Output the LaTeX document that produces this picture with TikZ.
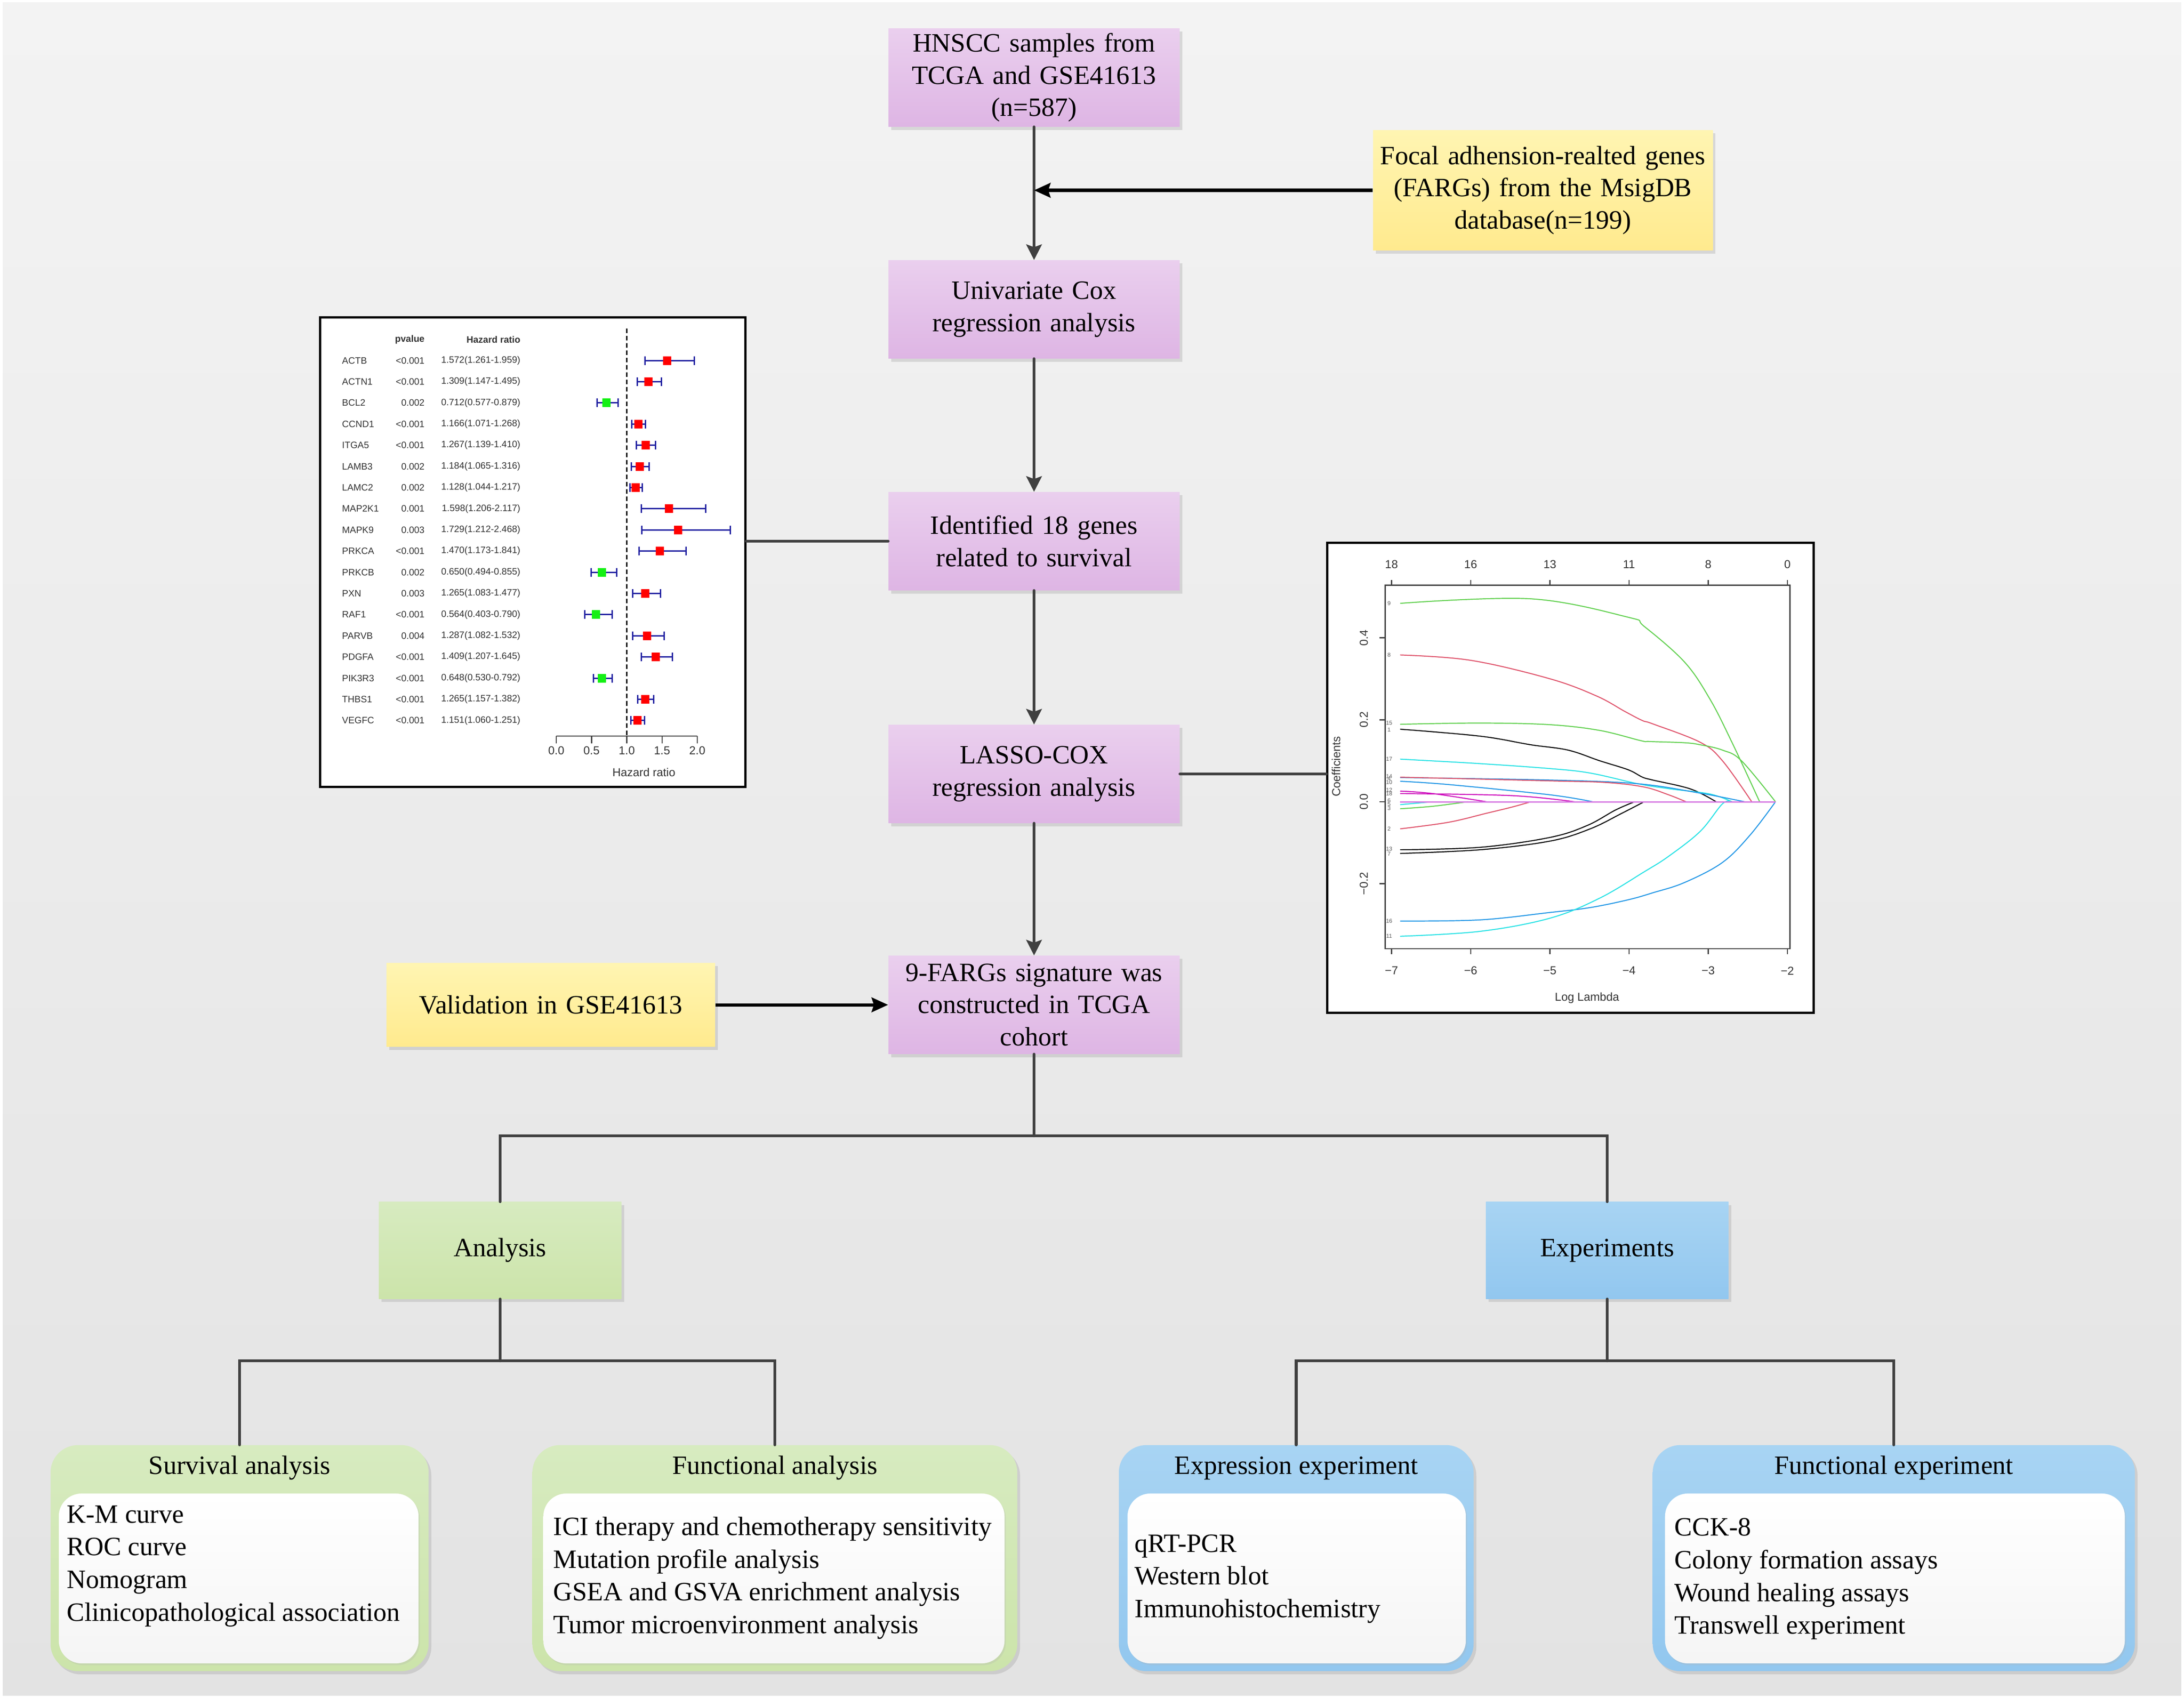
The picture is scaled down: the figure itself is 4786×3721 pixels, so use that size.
\documentclass[tikz,border=0pt]{standalone}
\usepackage{fontspec}
\setmainfont{Liberation Serif}
\newfontfamily\plotfont{Liberation Sans}
\usetikzlibrary{arrows.meta,shadows,positioning}

\definecolor{bgtop}{RGB}{243,243,243}
\definecolor{bgbot}{RGB}{227,227,227}
\definecolor{purptop}{RGB}{234,207,238}
\definecolor{purpbot}{RGB}{222,181,228}
\definecolor{yeltop}{RGB}{255,245,178}
\definecolor{yelbot}{RGB}{255,234,142}
\definecolor{grntop}{RGB}{215,235,192}
\definecolor{grnbot}{RGB}{204,228,170}
\definecolor{blutop}{RGB}{168,212,243}
\definecolor{blubot}{RGB}{146,199,239}
\definecolor{linkgray}{RGB}{64,64,64}
\definecolor{cinavy}{RGB}{30,30,160}
\definecolor{sqgreen}{RGB}{20,240,20}
\definecolor{rpink}{HTML}{DF536B}
\definecolor{rgreen}{HTML}{61D04F}
\definecolor{rblue}{HTML}{2297E6}
\definecolor{rcyan}{HTML}{28E2E5}
\definecolor{rmagenta}{HTML}{CD0BBC}
\definecolor{rzero}{HTML}{D77BE3}

\tikzset{
  boxshadow/.style={drop shadow={shadow xshift=0.06cm, shadow yshift=-0.07cm, opacity=0.3, fill=black!40}},
  flowbox/.style={rectangle, minimum width=6.38cm, minimum height=2.15cm, text width=6.2cm, align=center,
    inner sep=0pt, top color=purptop, bottom color=purpbot, boxshadow, font=\fontsize{16.5}{20}\selectfont},
  yellowbox/.style={flowbox, top color=yeltop, bottom color=yelbot, text width=7.2cm},
  greenbox/.style={flowbox, minimum width=5.31cm, minimum height=2.12cm, text width=5cm, top color=grntop, bottom color=grnbot},
  bluebox/.style={greenbox, top color=blutop, bottom color=blubot},
  panel/.style={draw=black, line width=0.045cm, fill=white, inner sep=0pt},
  link/.style={draw=linkgray, line width=0.065cm, line cap=round},
  flowarrow/.style={link, -{Stealth[length=0.34cm, width=0.34cm, inset=0.06cm]}},
  feedarrow/.style={draw=black, line width=0.07cm, -{Stealth[length=0.36cm, width=0.32cm, inset=0.05cm]}},
  cardbox/.style={rectangle, rounded corners=0.6cm, inner sep=0pt, minimum height=4.95cm, boxshadow},
  greencard/.style={cardbox, top color=grntop, bottom color=grnbot},
  bluecard/.style={cardbox, top color=blutop, bottom color=blubot},
  cardinner/.style={rectangle, rounded corners=0.5cm, inner sep=0pt, minimum height=3.72cm,
    top color=white, bottom color=black!4, drop shadow={shadow xshift=0.03cm, shadow yshift=-0.04cm, opacity=0.25, fill=black!30}},
  cardtitle/.style={inner sep=0pt, font=\fontsize{16.5}{20}\selectfont},
  cardlist/.style={inner sep=0pt, anchor=west, align=left, font=\fontsize{16.5}{20.4}\selectfont},
  plottext/.style={inner sep=0pt, text=black!80, font=\plotfont\fontsize{5.8}{7}\selectfont},
  axistext/.style={inner sep=0pt, text=black!80, font=\plotfont\fontsize{7.2}{8}\selectfont},
  curvelab/.style={inner sep=0pt, text=black!65, font=\plotfont\fontsize{3.5}{4}\selectfont},
  curve/.style={line width=0.022cm}
}

\begin{document}
\begin{tikzpicture}[x=0.01cm, y=-0.01cm]
\useasboundingbox (0,0) rectangle (4786,3721);
\fill[white] (0,0) rectangle (4786,3721);
\shade[top color=bgtop, bottom color=bgbot] (6,6) rectangle (4780,3715);

% main flow
\node[flowbox] (samples) at (2266,170) {HNSCC samples from\\TCGA and GSE41613\\(n=587)};
\node[flowbox] (unicox) at (2266,678) {Univariate Cox\\regression analysis};
\node[flowbox] (genes18) at (2266,1186) {Identified 18 genes\\related to survival};
\node[flowbox] (lassocox) at (2266,1696) {LASSO-COX\\regression analysis};
\node[flowbox] (signature) at (2266,2202) {9-FARGs signature was\\constructed in TCGA\\cohort};
\node[yellowbox, minimum width=7.44cm, minimum height=2.63cm] (fargs) at (3381,417) {Focal adhension-realted genes\\(FARGs) from the MsigDB\\database(n=199)};
\node[yellowbox, minimum width=6.92cm, minimum height=1.83cm] (valid) at (1207,2202) {Validation in GSE41613};
\node[greenbox] (analysis) at (1096,2740) {Analysis};
\node[bluebox] (experiments) at (3522,2740) {Experiments};

\coordinate (fargsin) at (2266,417);
\draw[flowarrow] (samples.south) -- (unicox.north);
\draw[feedarrow] (fargs.west) -- (fargsin);
\draw[flowarrow] (unicox.south) -- (genes18.north);
\draw[flowarrow] (genes18.south) -- (lassocox.north);
\draw[flowarrow] (lassocox.south) -- (signature.north);
\draw[feedarrow] (valid.east) -- (valid.east -| signature.west);

% forest plot
\node[panel, minimum width=9.31cm, minimum height=10.28cm] (forest) at (1167.5,1210) {};
\node[plottext, anchor=east, font=\plotfont\bfseries\fontsize{5.8}{7}\selectfont] (pvalhead) at (931,744) {pvalue};
\node[plottext, anchor=east, font=\plotfont\bfseries\fontsize{5.8}{7}\selectfont] (hrhead) at (1141,744) {Hazard ratio};
\foreach \gene/\pv/\hr/\lo/\hi/\col [count=\i] in {
  ACTB/{<0.001}/1.572/1.261/1.959/red, ACTN1/{<0.001}/1.309/1.147/1.495/red,
  BCL2/0.002/0.712/0.577/0.879/sqgreen, CCND1/{<0.001}/1.166/1.071/1.268/red,
  ITGA5/{<0.001}/1.267/1.139/1.410/red, LAMB3/0.002/1.184/1.065/1.316/red,
  LAMC2/0.002/1.128/1.044/1.217/red, MAP2K1/0.001/1.598/1.206/2.117/red,
  MAPK9/0.003/1.729/1.212/2.468/red, PRKCA/{<0.001}/1.470/1.173/1.841/red,
  PRKCB/0.002/0.650/0.494/0.855/sqgreen, PXN/0.003/1.265/1.083/1.477/red,
  RAF1/{<0.001}/0.564/0.403/0.790/sqgreen, PARVB/0.004/1.287/1.082/1.532/red,
  PDGFA/{<0.001}/1.409/1.207/1.645/red, PIK3R3/{<0.001}/0.648/0.530/0.792/sqgreen,
  THBS1/{<0.001}/1.265/1.157/1.382/red, VEGFC/{<0.001}/1.151/1.060/1.251/red} {
  \pgfmathsetmacro\rowy{790+46.4*(\i-1)}
  \node[plottext, anchor=west] (gene\i) at (749,\rowy) {\gene};
  \node[plottext, anchor=east] (pval\i) at (931,\rowy) {\pv};
  \node[plottext, anchor=east] (hrtext\i) at (1141,\rowy) {\hr(\lo-\hi)};
  \draw[cinavy, line width=0.03cm] ({1219+154.5*\lo},\rowy) -- ({1219+154.5*\hi},\rowy);
  \draw[cinavy, line width=0.03cm] ({1219+154.5*\lo},\rowy-9.5) -- ++(0,19);
  \draw[cinavy, line width=0.03cm] ({1219+154.5*\hi},\rowy-9.5) -- ++(0,19);
  \fill[\col] ({1219+154.5*\hr-9},\rowy-9.5) rectangle ++(18,19);
}
\draw[line width=0.03cm, dash pattern=on 0.1cm off 0.06cm] (1373.5,720) -- (1373.5,1613);
\draw[black!75, line width=0.025cm] (1219,1613) -- (1528,1613);
\foreach \t in {0.0,0.5,1.0,1.5,2.0} {
  \draw[black!75, line width=0.025cm] ({1219+154.5*\t},1613) -- ++(0,16);
  \node[axistext] at ({1219+154.5*\t},1645) {\t};
}
\node[axistext] (hrlabel) at (1411,1692) {Hazard ratio};
\draw[link] (genes18.west -| forest.east) -- (genes18.west);

% lasso plot
\node[panel, minimum width=10.65cm, minimum height=10.29cm] (lasso) at (3441.5,1704.5) {};
\draw[link] (lassocox.east) -- (lassocox.east -| lasso.west);
\begin{scope}[shift={(4263.8,1757)}, x=1.734cm, y=8.98cm]
  \draw[black!75, line width=0.025cm] (-7.081,-0.3586) rectangle (-1.966,0.528);
  \foreach \l/\lab/\top in {-7/−7/18, -6/−6/16, -5/−5/13, -4/−4/11, -3/−3/8, -2/−2/0} {
    \draw[black!75, line width=0.025cm] (\l,-0.3586) -- (\l,-0.372);
    \draw[black!75, line width=0.025cm] (\l,0.528) -- (\l,0.541);
    \node[axistext] at (\l,-0.412) {\lab};
    \node[axistext] at (\l,0.579) {\top};
  }
  \foreach \c/\lab in {-0.2/−0.2, 0/0.0, 0.2/0.2, 0.4/0.4} {
    \draw[black!75, line width=0.025cm] (-7.081,\c) -- (-7.15,\c);
    \node[axistext, rotate=90] at (-7.35,\c) {\lab};
  }
  \node[axistext, rotate=90] (coeflabel) at (-7.70,0.086) {Coefficients};
  \node[axistext] (lambdalabel) at (-4.53,-0.479) {Log Lambda};

  \draw[rgreen, curve] plot[smooth, tension=0.6] coordinates {(-6.89,0.484) (-5.24,0.495) (-4.01,0.45) (-3.81,0.428) (-3.30,0.341) (-2.98,0.251) (-2.70,0.145) (-2.35,0)};
  \draw[rpink, curve] plot[smooth, tension=0.6] coordinates {(-6.89,0.358) (-6.0,0.345) (-5.0,0.30) (-4.41,0.258) (-4.05,0.22) (-3.83,0.198) (-3.70,0.19) (-3.10,0.145) (-2.82,0.10) (-2.45,0)};
  \draw[rgreen, curve] plot[smooth, tension=0.6] coordinates {(-6.89,0.189) (-5.88,0.192) (-5.0,0.188) (-4.37,0.174) (-3.85,0.149) (-3.74,0.147) (-3.30,0.144) (-3.10,0.139) (-2.82,0.126) (-2.58,0.10) (-2.15,0)};
  \draw[black, curve] plot[smooth, tension=0.6] coordinates {(-6.89,0.177) (-5.88,0.16) (-5.24,0.139) (-4.77,0.126) (-4.37,0.10) (-4.01,0.078) (-3.83,0.06) (-3.70,0.053) (-3.22,0.031) (-2.90,0)};
  \draw[rcyan, curve] plot[smooth, tension=0.6] coordinates {(-6.89,0.104) (-5.88,0.093) (-5.0,0.081) (-4.49,0.07) (-3.89,0.044) (-3.50,0.032) (-2.98,0.019) (-2.70,0)};
  \draw[rblue, curve] plot[smooth, tension=0.6] coordinates {(-6.89,0.059) (-5.0,0.053) (-3.89,0.044) (-3.10,0.021) (-2.54,0)};
  \draw[rpink, curve] plot[smooth, tension=0.6] coordinates {(-6.89,0.06) (-5.0,0.051) (-4.29,0.047) (-3.81,0.036) (-3.50,0.017) (-3.28,0)};
  \draw[rblue, curve] plot[smooth, tension=0.6] coordinates {(-6.89,0.05) (-6.28,0.042) (-5.0,0.017) (-4.46,0)};
  \draw[rmagenta, curve] plot[smooth, tension=0.6] coordinates {(-6.89,0.026) (-6.48,0.02) (-5.8,0)};
  \draw[rmagenta, curve] plot[smooth, tension=0.6] coordinates {(-6.89,0.02) (-5.48,0.015) (-4.69,0)};
  \draw[rgreen, curve] plot[smooth, tension=0.6] coordinates {(-6.89,-0.017) (-6.48,-0.011) (-6.04,0)};
  \draw[rcyan, curve] plot[smooth, tension=0.6] coordinates {(-6.89,-0.007) (-6.48,0)};
  \draw[rpink, curve] plot[smooth, tension=0.6] coordinates {(-6.89,-0.066) (-6.28,-0.05) (-5.80,-0.028) (-5.48,-0.013) (-5.24,0)};
  \draw[black, curve] plot[smooth, tension=0.6] coordinates {(-6.89,-0.117) (-5.88,-0.111) (-5.0,-0.087) (-4.53,-0.058) (-4.17,-0.02) (-3.93,0)};
  \draw[black, curve] plot[smooth, tension=0.6] coordinates {(-6.89,-0.126) (-5.88,-0.117) (-5.0,-0.096) (-4.49,-0.066) (-4.09,-0.028) (-3.81,0)};
  \draw[rblue, curve] plot[smooth, tension=0.6] coordinates {(-6.89,-0.291) (-5.88,-0.288) (-5.0,-0.270) (-4.49,-0.258) (-4.01,-0.239) (-3.70,-0.222) (-3.30,-0.197) (-2.82,-0.148) (-2.47,-0.081) (-2.15,0)};
  \draw[rcyan, curve] plot[smooth, tension=0.6] coordinates {(-6.89,-0.328) (-5.88,-0.316) (-5.0,-0.284) (-4.37,-0.235) (-3.81,-0.171) (-3.50,-0.133) (-3.10,-0.072) (-2.82,-0.005) (-2.70,0)};
  \draw[rzero, line width=0.03cm] (-6.89,0) -- (-2.15,0);
  \foreach \c/\lab in {0.484/9, 0.358/8, 0.192/15, 0.176/1, 0.104/17, 0.062/14, 0.057/4, 0.048/10, 0.029/12, 0.020/18, 0.003/6, -0.006/5, -0.016/3, -0.066/2, -0.115/13, -0.127/7, -0.291/16, -0.328/11}
    \node[curvelab] at (-7.03,\c) {\lab};
\end{scope}

% branches
\coordinate (mainsplit) at (2266,2489);
\draw[link] (signature.south) -- (mainsplit);
\draw[link] (mainsplit) -| (analysis.north);
\draw[link] (mainsplit) -| (experiments.north);

% cards
\node[greencard, minimum width=8.28cm] (survcard) at (525,3414.5) {};
\node[cardinner, minimum width=7.88cm] (survinner) at (523,3459) {};
\node[cardtitle] (survtitle) at (525,3217) {Survival analysis};
\node[cardlist] (survlist) at (146,3432) {K-M curve\\ROC curve\\Nomogram\\Clinicopathological association};

\node[greencard, minimum width=10.62cm] (funccard) at (1698,3414.5) {};
\node[cardinner, minimum width=10.10cm] (funcinner) at (1696,3459) {};
\node[cardtitle] (functitle) at (1698,3217) {Functional analysis};
\node[cardlist] (funclist) at (1212,3458) {ICI therapy and chemotherapy sensitivity\\Mutation profile analysis\\GSEA and GSVA enrichment analysis\\Tumor microenvironment analysis};

\node[bluecard, minimum width=7.77cm] (exprcard) at (2840.5,3414.5) {};
\node[cardinner, minimum width=7.41cm] (exprinner) at (2841.5,3459) {};
\node[cardtitle] (exprtitle) at (2840.5,3217) {Expression experiment};
\node[cardlist] (exprlist) at (2486,3460) {qRT-PCR\\Western blot\\Immunohistochemistry};

\node[bluecard, minimum width=10.56cm] (fexpcard) at (4150,3414.5) {};
\node[cardinner, minimum width=10.07cm] (fexpinner) at (4152.5,3459) {};
\node[cardtitle] (fexptitle) at (4150,3217) {Functional experiment};
\node[cardlist] (fexplist) at (3669,3460) {CCK-8\\Colony formation assays\\Wound healing assays\\Transwell experiment};

\coordinate (asplit) at (1096,2982);
\draw[link] (analysis.south) -- (asplit);
\draw[link] (asplit) -| (survcard.north);
\draw[link] (asplit) -| (funccard.north);
\coordinate (esplit) at (3522,2982);
\draw[link] (experiments.south) -- (esplit);
\draw[link] (esplit) -| (exprcard.north);
\draw[link] (esplit) -| (fexpcard.north);
\end{tikzpicture}
\end{document}
